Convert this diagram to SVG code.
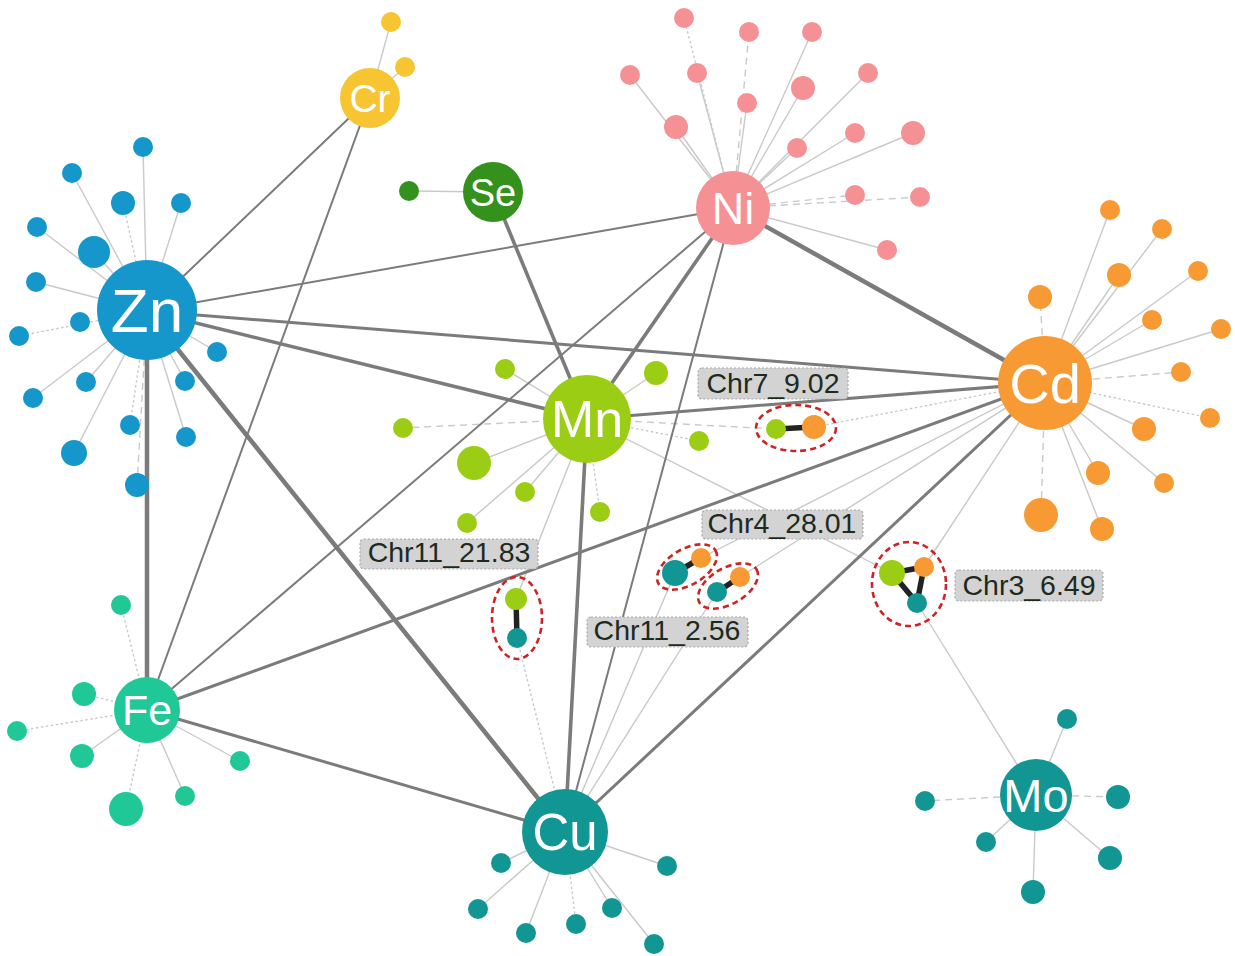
<svg xmlns="http://www.w3.org/2000/svg" width="1235" height="956" viewBox="0 0 1235 956">
<style>
.bg{fill:#ffffff}
.e{stroke:#7b7b7b;stroke-linecap:round;fill:none}
.w2{stroke-width:2}
.w3{stroke-width:3}
.w35{stroke-width:3.6}
.w45{stroke-width:4.5}
.s{stroke:#c9c9c9;stroke-width:1.4;fill:none}
.da{stroke-dasharray:7 5}
.do{stroke-dasharray:2.5 2.5}
.hub{font-family:"Liberation Sans",Arial,sans-serif;fill:#ffffff;text-anchor:middle}
.zn{fill:#1597cc}.cr{fill:#f7c532}.se{fill:#33911c}.ni{fill:#f59194}.cd{fill:#f79a33}
.mn{fill:#9acd14}.fe{fill:#20c898}.cu{fill:#119694}
.lbl rect{fill:#d3d3d3;stroke:#a9a9a9;stroke-width:1.2;stroke-dasharray:2 2}
.lbl text{font-family:"Liberation Sans",Arial,sans-serif;font-size:28.5px;fill:#1d2a1d;text-anchor:middle}
.ring{fill:none;stroke:#cc2424;stroke-width:2.6;stroke-dasharray:6 4}
.bond{stroke:#222222;stroke-width:5.5}
</style>
<rect class="bg" x="0" y="0" width="1235" height="956"/>

<g id="connectors">
  <!-- satellite spokes: Zn -->
  <g id="spokes-zn">
    <line class="s" x1="147" y1="311" x2="143" y2="147"/>
    <line class="s" x1="147" y1="311" x2="72" y2="173"/>
    <line class="s do" x1="147" y1="311" x2="123" y2="203"/>
    <line class="s" x1="147" y1="311" x2="181" y2="203"/>
    <line class="s" x1="147" y1="311" x2="37" y2="227"/>
    <line class="s" x1="147" y1="311" x2="94" y2="252"/>
    <line class="s" x1="147" y1="311" x2="36" y2="282"/>
    <line class="s do" x1="147" y1="311" x2="19" y2="336"/>
    <line class="s" x1="147" y1="311" x2="217" y2="352"/>
    <line class="s" x1="147" y1="311" x2="86" y2="382"/>
    <line class="s" x1="147" y1="311" x2="185" y2="381"/>
    <line class="s" x1="147" y1="311" x2="33" y2="398"/>
    <line class="s do" x1="147" y1="311" x2="130" y2="425"/>
    <line class="s" x1="147" y1="311" x2="186" y2="437"/>
    <line class="s" x1="147" y1="311" x2="74" y2="453"/>
    <line class="s da" x1="147" y1="311" x2="137" y2="485"/>
  </g>
  <g id="spokes-cr">
    <line class="s" x1="370" y1="98" x2="391" y2="22"/>
    <line class="s" x1="370" y1="98" x2="405" y2="67"/>
  </g>
  <g id="spokes-se">
    <line class="s" x1="493" y1="192" x2="409" y2="191"/>
  </g>
  <g id="spokes-ni">
    <line class="s do" x1="733" y1="208" x2="684" y2="18"/>
    <line class="s da" x1="733" y1="208" x2="749" y2="32"/>
    <line class="s" x1="733" y1="208" x2="812" y2="32"/>
    <line class="s" x1="733" y1="208" x2="630" y2="75"/>
    <line class="s" x1="733" y1="208" x2="697" y2="73"/>
    <line class="s" x1="733" y1="208" x2="868" y2="73"/>
    <line class="s" x1="733" y1="208" x2="803" y2="88"/>
    <line class="s" x1="733" y1="208" x2="747" y2="103"/>
    <line class="s" x1="733" y1="208" x2="676" y2="127"/>
    <line class="s" x1="733" y1="208" x2="855" y2="133"/>
    <line class="s" x1="733" y1="208" x2="913" y2="133"/>
    <line class="s" x1="733" y1="208" x2="797" y2="148"/>
    <line class="s da" x1="733" y1="208" x2="855" y2="195"/>
    <line class="s da" x1="733" y1="208" x2="920" y2="197"/>
    <line class="s" x1="733" y1="208" x2="887" y2="250"/>
  </g>
  <g id="spokes-cd">
    <line class="s" x1="1045" y1="383" x2="1110" y2="210"/>
    <line class="s" x1="1045" y1="383" x2="1162" y2="229"/>
    <line class="s" x1="1045" y1="383" x2="1119" y2="275"/>
    <line class="s" x1="1045" y1="383" x2="1198" y2="271"/>
    <line class="s da" x1="1045" y1="383" x2="1040" y2="297"/>
    <line class="s" x1="1045" y1="383" x2="1152" y2="320"/>
    <line class="s" x1="1045" y1="383" x2="1221" y2="329"/>
    <line class="s da" x1="1045" y1="383" x2="1181" y2="372"/>
    <line class="s do" x1="1045" y1="383" x2="1210" y2="418"/>
    <line class="s" x1="1045" y1="383" x2="1144" y2="429"/>
    <line class="s" x1="1045" y1="383" x2="1098" y2="473"/>
    <line class="s" x1="1045" y1="383" x2="1164" y2="483"/>
    <line class="s da" x1="1045" y1="383" x2="1041" y2="515"/>
    <line class="s" x1="1045" y1="383" x2="1102" y2="529"/>
  </g>
  <g id="spokes-mn">
    <line class="s" x1="587" y1="419" x2="505" y2="369"/>
    <line class="s" x1="587" y1="419" x2="656" y2="373"/>
    <line class="s da" x1="587" y1="419" x2="403" y2="428"/>
    <line class="s do" x1="587" y1="419" x2="699" y2="441"/>
    <line class="s" x1="587" y1="419" x2="474" y2="463"/>
    <line class="s" x1="587" y1="419" x2="525" y2="492"/>
    <line class="s" x1="587" y1="419" x2="467" y2="523"/>
    <line class="s do" x1="587" y1="419" x2="600" y2="512"/>
  </g>
  <g id="spokes-fe">
    <line class="s do" x1="147" y1="710" x2="121" y2="605"/>
    <line class="s do" x1="147" y1="710" x2="84" y2="694"/>
    <line class="s do" x1="147" y1="710" x2="17" y2="731"/>
    <line class="s" x1="147" y1="710" x2="82" y2="756"/>
    <line class="s" x1="147" y1="710" x2="240" y2="761"/>
    <line class="s" x1="147" y1="710" x2="185" y2="796"/>
    <line class="s do" x1="147" y1="710" x2="126" y2="809"/>
  </g>
  <g id="spokes-cu">
    <line class="s" x1="565" y1="832" x2="501" y2="863"/>
    <line class="s" x1="565" y1="832" x2="667" y2="866"/>
    <line class="s" x1="565" y1="832" x2="478" y2="909"/>
    <line class="s" x1="565" y1="832" x2="612" y2="908"/>
    <line class="s do" x1="565" y1="832" x2="576" y2="924"/>
    <line class="s" x1="565" y1="832" x2="526" y2="933"/>
    <line class="s" x1="565" y1="832" x2="654" y2="944"/>
  </g>
  <g id="spokes-mo">
    <line class="s" x1="1036" y1="795" x2="1067" y2="719"/>
    <line class="s da" x1="1036" y1="795" x2="925" y2="801"/>
    <line class="s da" x1="1036" y1="795" x2="1118" y2="797"/>
    <line class="s" x1="1036" y1="795" x2="986" y2="842"/>
    <line class="s" x1="1036" y1="795" x2="1110" y2="858"/>
    <line class="s" x1="1036" y1="795" x2="1033" y2="892"/>
  </g>
  <!-- spokes to QTL clusters -->
  <g id="spokes-qtl">
    <line class="s da" x1="587" y1="419" x2="776" y2="429"/>
    <line class="s do" x1="1045" y1="383" x2="814" y2="427"/>
    <line class="s" x1="587" y1="419" x2="516" y2="599"/>
    <line class="s do" x1="565" y1="832" x2="517" y2="638"/>
    <line class="s" x1="565" y1="832" x2="675" y2="573"/>
    <line class="s" x1="565" y1="832" x2="717" y2="592"/>
    <line class="s" x1="1045" y1="383" x2="701" y2="558"/>
    <line class="s" x1="1045" y1="383" x2="740" y2="577"/>
    <line class="s" x1="587" y1="419" x2="892" y2="573"/>
    <line class="s" x1="1045" y1="383" x2="924" y2="567"/>
    <line class="s" x1="1036" y1="795" x2="917" y2="603"/>
  </g>
  <!-- main element connectors -->
  <g id="edges-main">
    <line class="e w2" x1="147" y1="311" x2="370" y2="98"/>
    <line class="e w2" x1="147" y1="311" x2="733" y2="208"/>
    <line class="e w3" x1="147" y1="311" x2="1045" y2="383"/>
    <line class="e w35" x1="147" y1="311" x2="587" y2="419"/>
    <line class="e w45" x1="147" y1="311" x2="147" y2="710"/>
    <line class="e w45" x1="147" y1="311" x2="565" y2="832"/>
    <line class="e w2" x1="370" y1="98" x2="147" y2="710"/>
    <line class="e w35" x1="493" y1="192" x2="587" y2="419"/>
    <line class="e w45" x1="733" y1="208" x2="1045" y2="383"/>
    <line class="e w35" x1="733" y1="208" x2="587" y2="419"/>
    <line class="e w2" x1="733" y1="208" x2="147" y2="710"/>
    <line class="e w2" x1="733" y1="208" x2="565" y2="832"/>
    <line class="e w3" x1="1045" y1="383" x2="587" y2="419"/>
    <line class="e w3" x1="1045" y1="383" x2="147" y2="710"/>
    <line class="e w3" x1="1045" y1="383" x2="565" y2="832"/>
    <line class="e w35" x1="587" y1="419" x2="565" y2="832"/>
    <line class="e w3" x1="147" y1="710" x2="565" y2="832"/>
  </g>
</g>

<g id="node-Zn">
  <g class="zn">
    <circle cx="143" cy="147" r="10"/><circle cx="72" cy="173" r="10"/><circle cx="123" cy="203" r="12"/>
    <circle cx="181" cy="203" r="10"/><circle cx="37" cy="227" r="10"/><circle cx="94" cy="252" r="16"/>
    <circle cx="36" cy="282" r="10"/><circle cx="80" cy="322" r="10"/><circle cx="19" cy="336" r="10"/>
    <circle cx="217" cy="352" r="10"/><circle cx="86" cy="382" r="10"/><circle cx="185" cy="381" r="10"/>
    <circle cx="33" cy="398" r="10"/><circle cx="130" cy="425" r="10"/><circle cx="186" cy="437" r="10"/>
    <circle cx="74" cy="453" r="13"/><circle cx="137" cy="485" r="12"/>
    <circle cx="147" cy="310" r="50"/>
  </g>
  <text class="hub" x="147" y="332" font-size="62">Zn</text>
</g>

<g id="node-Cr">
  <g class="cr">
    <circle cx="391" cy="22" r="10"/><circle cx="405" cy="67" r="10"/>
    <circle cx="370" cy="98" r="30"/>
  </g>
  <text class="hub" x="370" y="112" font-size="39">Cr</text>
</g>

<g id="node-Se">
  <g class="se">
    <circle cx="409" cy="191" r="10"/>
    <circle cx="493" cy="192" r="30"/>
  </g>
  <text class="hub" x="493" y="206" font-size="38">Se</text>
</g>

<g id="node-Ni">
  <g class="ni">
    <circle cx="684" cy="18" r="10"/><circle cx="749" cy="32" r="10"/><circle cx="812" cy="32" r="10"/>
    <circle cx="630" cy="75" r="10"/><circle cx="697" cy="73" r="10"/><circle cx="868" cy="73" r="10"/>
    <circle cx="803" cy="88" r="12"/><circle cx="747" cy="103" r="10"/><circle cx="676" cy="127" r="12"/>
    <circle cx="855" cy="133" r="10"/><circle cx="913" cy="133" r="12"/><circle cx="797" cy="148" r="10"/>
    <circle cx="855" cy="195" r="10"/><circle cx="920" cy="197" r="10"/><circle cx="887" cy="250" r="10"/>
    <circle cx="733" cy="208" r="37"/>
  </g>
  <text class="hub" x="733" y="224" font-size="45">Ni</text>
</g>

<g id="node-Cd">
  <g class="cd">
    <circle cx="1110" cy="210" r="10"/><circle cx="1162" cy="229" r="10"/><circle cx="1119" cy="275" r="12"/>
    <circle cx="1198" cy="271" r="10"/><circle cx="1040" cy="297" r="12"/><circle cx="1152" cy="320" r="10"/>
    <circle cx="1221" cy="329" r="10"/><circle cx="1181" cy="372" r="10"/><circle cx="1210" cy="418" r="10"/>
    <circle cx="1144" cy="429" r="12"/><circle cx="1098" cy="473" r="12"/><circle cx="1164" cy="483" r="10"/>
    <circle cx="1041" cy="515" r="17"/><circle cx="1102" cy="529" r="12"/>
    <circle cx="1045" cy="383" r="47"/>
  </g>
  <text class="hub" x="1045" y="403" font-size="56">Cd</text>
</g>

<g id="node-Mn">
  <g class="mn">
    <circle cx="505" cy="369" r="10"/><circle cx="656" cy="373" r="12"/><circle cx="403" cy="428" r="10"/>
    <circle cx="699" cy="441" r="10"/><circle cx="474" cy="463" r="17"/><circle cx="525" cy="492" r="10"/>
    <circle cx="467" cy="523" r="10"/><circle cx="600" cy="512" r="10"/>
    <circle cx="587" cy="419" r="44"/>
  </g>
  <text class="hub" x="587" y="437" font-size="52">Mn</text>
</g>

<g id="node-Fe">
  <g class="fe">
    <circle cx="121" cy="605" r="10"/><circle cx="84" cy="694" r="12"/><circle cx="17" cy="731" r="10"/>
    <circle cx="82" cy="756" r="12"/><circle cx="240" cy="761" r="10"/><circle cx="185" cy="796" r="10"/>
    <circle cx="126" cy="809" r="17"/>
    <circle cx="147" cy="710" r="33"/>
  </g>
  <text class="hub" x="147" y="725" font-size="43">Fe</text>
</g>

<g id="node-Cu">
  <g class="cu">
    <circle cx="501" cy="863" r="10"/><circle cx="667" cy="866" r="10"/><circle cx="478" cy="909" r="10"/>
    <circle cx="612" cy="908" r="10"/><circle cx="576" cy="924" r="10"/><circle cx="526" cy="933" r="10"/>
    <circle cx="654" cy="944" r="10"/>
    <circle cx="565" cy="832" r="43"/>
  </g>
  <text class="hub" x="565" y="850" font-size="51">Cu</text>
</g>

<g id="node-Mo">
  <g class="cu">
    <circle cx="1067" cy="719" r="10"/><circle cx="925" cy="801" r="10"/><circle cx="1118" cy="797" r="12"/>
    <circle cx="986" cy="842" r="10"/><circle cx="1110" cy="858" r="12"/><circle cx="1033" cy="892" r="12"/>
    <circle cx="1036" cy="795" r="36"/>
  </g>
  <text class="hub" x="1036" y="812" font-size="47">Mo</text>
</g>

<g id="qtl-Chr7_9.02">
  <line class="bond" x1="776" y1="429" x2="814" y2="427"/>
  <circle class="mn" cx="776" cy="429" r="10"/>
  <circle class="cd" cx="814" cy="427" r="12"/>
  <ellipse class="ring" cx="796" cy="428" rx="40" ry="23"/>
  <g class="lbl"><rect x="698" y="368" width="150" height="31" rx="4"/><text x="773" y="393">Chr7_9.02</text></g>
</g>

<g id="qtl-Chr11_21.83">
  <line class="bond" x1="516" y1="599" x2="517" y2="638"/>
  <circle class="mn" cx="516" cy="599" r="11"/>
  <circle class="cu" cx="517" cy="638" r="10"/>
  <ellipse class="ring" cx="517" cy="618" rx="25" ry="41"/>
  <g class="lbl"><rect x="360" y="539" width="178" height="30" rx="4"/><text x="449" y="562">Chr11_21.83</text></g>
</g>

<g id="qtl-Chr4_28.01">
  <line class="bond" x1="675" y1="573" x2="701" y2="558"/>
  <circle class="cu" cx="675" cy="573" r="13"/>
  <circle class="cd" cx="701" cy="558" r="10"/>
  <ellipse class="ring" cx="687" cy="567" rx="33" ry="18" transform="rotate(-30 687 567)"/>
  <line class="bond" x1="717" y1="592" x2="740" y2="577"/>
  <circle class="cu" cx="717" cy="592" r="10"/>
  <circle class="cd" cx="740" cy="577" r="10"/>
  <ellipse class="ring" cx="728" cy="586" rx="33" ry="18" transform="rotate(-30 728 586)"/>
  <g class="lbl"><rect x="702" y="510" width="161" height="29" rx="4"/><text x="782" y="533">Chr4_28.01</text></g>
</g>

<g id="qtl-Chr11_2.56">
  <g class="lbl"><rect x="587" y="617" width="161" height="30" rx="4"/><text x="667" y="640">Chr11_2.56</text></g>
</g>

<g id="qtl-Chr3_6.49">
  <line class="bond" x1="892" y1="573" x2="924" y2="567"/>
  <line class="bond" x1="892" y1="573" x2="917" y2="603"/>
  <line class="bond" x1="924" y1="567" x2="917" y2="603"/>
  <circle class="mn" cx="892" cy="573" r="13"/>
  <circle class="cd" cx="924" cy="567" r="10"/>
  <circle class="cu" cx="917" cy="603" r="10"/>
  <ellipse class="ring" cx="909" cy="584" rx="37" ry="42"/>
  <g class="lbl"><rect x="955" y="570" width="148" height="31" rx="4"/><text x="1029" y="595">Chr3_6.49</text></g>
</g>
</svg>
